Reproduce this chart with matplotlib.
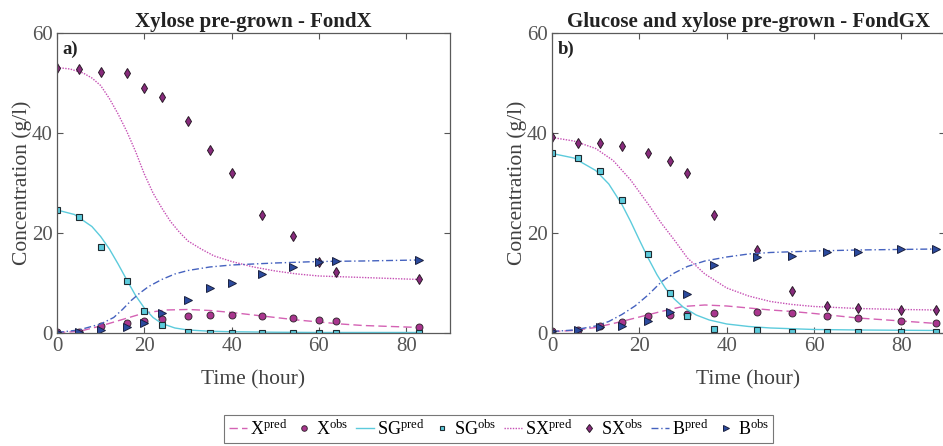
import numpy as np
import matplotlib
matplotlib.use("Agg")
import matplotlib.pyplot as plt

plt.rcParams["font.family"] = ["Liberation Serif", "DejaVu Serif"]
plt.rcParams["mathtext.fontset"] = "custom"
plt.rcParams["mathtext.rm"] = "Liberation Serif"
plt.rcParams["mathtext.it"] = "Liberation Serif:italic"

# ---- FondX : observations ----
t_obs_a = [0, 5, 10, 16, 20, 24, 30, 35, 40, 47, 54, 60, 64, 83]
x_obs_a = [0.1, 0.2, 1.3, 1.9, 2.4, 2.7, 3.3, 3.5, 3.6, 3.4, 2.9, 2.6, 2.4, 1.1]
sg_obs_a = [24.5, 23.2, 17.1, 10.3, 4.4, 1.5, 0.1, 0.0, 0.0, 0.0, 0.0, 0.0, 0.0, 0.0]
sx_obs_a = [53.1, 52.8, 52.3, 52.1, 49.0, 47.1, 42.4, 36.5, 32.0, 23.6, 19.4, 14.1, 12.1, 10.7]
b_obs_a = [0.1, 0.2, 0.6, 1.1, 1.9, 3.9, 6.6, 8.9, 9.9, 11.8, 13.1, 14.1, 14.3, 14.5]

# ---- FondX : model ----
t_x_a = [0, 5, 10, 15, 20, 25, 30, 35, 40, 45, 50, 55, 60, 65, 70, 83]
x_pred_a = [0.1, 0.3, 1.4, 2.7, 4.0, 4.6, 4.7, 4.5, 4.1, 3.6, 3.1, 2.6, 2.2, 1.8, 1.5, 1.1]
t_sg_a = [0, 4, 8, 10, 12, 14, 16, 18, 20, 22, 24, 27, 30, 35, 40, 50, 60, 83]
sg_pred_a = [24.6, 23.7, 21.3, 19.3, 16.8, 13.8, 10.6, 7.5, 5.0, 3.1, 1.9, 1.0, 0.6, 0.35, 0.25, 0.15, 0.1, 0.1]
t_sx_a = [0, 3, 6, 8, 10, 12, 14, 16, 18, 20, 22, 24, 26, 28, 30, 33, 36, 40, 45, 50, 55, 60, 70, 83]
sx_pred_a = [53.1, 52.8, 52.0, 51.0, 49.5, 46.9, 43.8, 40.3, 36.3, 31.8, 28.0, 25.0, 22.3, 20.2, 18.4, 16.8, 15.4, 14.3, 13.2, 12.4, 11.8, 11.4, 11.1, 10.7]
t_b_a = [0, 5, 10, 13, 15, 17, 19, 21, 24, 27, 30, 35, 40, 50, 60, 70, 83]
b_pred_a = [0.1, 0.6, 1.8, 3.1, 4.7, 6.5, 8.0, 9.3, 10.7, 11.8, 12.5, 13.2, 13.6, 14.0, 14.3, 14.4, 14.6]

# ---- FondGX : observations ----
t_obs_b = [0, 6, 11, 16, 22, 27, 31, 37, 47, 55, 63, 70, 80, 88]
x_obs_b = [0.3, 0.5, 1.3, 2.1, 3.3, 3.6, 3.7, 3.9, 4.1, 3.9, 3.3, 2.9, 2.3, 1.9]
sg_obs_b = [35.9, 34.9, 32.3, 26.5, 15.7, 7.9, 3.4, 0.7, 0.6, 0.2, 0.2, 0.2, 0.2, 0.2]
sx_obs_b = [39.1, 38.0, 38.0, 37.3, 36.0, 34.3, 32.0, 23.6, 16.5, 8.3, 5.4, 4.9, 4.6, 4.6]
b_obs_b = [0.3, 0.5, 1.1, 1.4, 2.3, 4.1, 7.7, 13.6, 15.1, 15.3, 16.1, 16.2, 16.7, 16.7]

# ---- FondGX : model ----
t_x_b = [0, 5, 10, 15, 20, 25, 30, 35, 40, 45, 50, 55, 60, 70, 80, 88]
x_pred_b = [0.3, 0.5, 1.1, 2.1, 3.2, 4.3, 5.3, 5.6, 5.4, 5.0, 4.6, 4.3, 3.9, 3.0, 2.4, 1.9]
t_sg_b = [0, 5, 10, 13, 16, 18, 20, 22, 24, 26, 28, 30, 33, 36, 40, 45, 50, 60, 70, 88]
sg_pred_b = [35.9, 35.0, 32.5, 29.8, 25.7, 22.3, 18.6, 15.0, 11.7, 8.9, 6.8, 5.2, 3.6, 2.6, 1.8, 1.3, 1.0, 0.7, 0.6, 0.5]
t_sx_b = [0, 5, 10, 14, 18, 22, 25, 28, 31, 35, 40, 45, 50, 55, 60, 70, 80, 88]
sx_pred_b = [39.1, 38.4, 36.9, 34.5, 30.6, 25.8, 22.0, 18.6, 15.0, 11.8, 9.0, 7.4, 6.3, 5.7, 5.3, 4.9, 4.7, 4.6]
t_b_b = [0, 5, 10, 13, 16, 19, 22, 25, 28, 31, 35, 40, 45, 50, 60, 70, 88]
b_pred_b = [0.3, 0.6, 1.4, 2.3, 3.7, 5.4, 7.6, 10.2, 12.0, 13.3, 14.4, 15.2, 15.8, 16.1, 16.4, 16.6, 16.8]

titles = ["Xylose pre-grown - FondX", "Glucose and xylose pre-grown - FondGX"]
letters = ["a)", "b)"]

c_x_line = "#d462b4"
c_x_mark = "#a9358e"
c_sg = "#5ccbdc"
c_sx_line = "#c64fb4"
c_sx_mark = "#882a7c"
c_b_line = "#4562bf"
c_b_mark = "#2b4a9e"

fig = plt.figure(figsize=(9.43, 4.46), dpi=100)
ax_a = fig.add_axes([0.0604, 0.2534, 0.4168, 0.6726])
ax_b = fig.add_axes([0.5854, 0.2534, 0.4168, 0.6726])

panels = [
    (ax_a, t_obs_a, x_obs_a, sg_obs_a, sx_obs_a, b_obs_a,
     (t_x_a, x_pred_a), (t_sg_a, sg_pred_a), (t_sx_a, sx_pred_a), (t_b_a, b_pred_a)),
    (ax_b, t_obs_b, x_obs_b, sg_obs_b, sx_obs_b, b_obs_b,
     (t_x_b, x_pred_b), (t_sg_b, sg_pred_b), (t_sx_b, sx_pred_b), (t_b_b, b_pred_b)),
]

handles = []
for i, (ax, t, xo, sgo, sxo, bo, xp, sgp, sxp, bp) in enumerate(panels):
    h1, = ax.plot(*xp, ls=(0, (6, 3)), color=c_x_line, lw=1.0)
    h2, = ax.plot(t, xo, ls="none", marker="o", ms=5, mfc=c_x_mark, mec="#3a2a35", mew=0.7)
    h3, = ax.plot(*sgp, ls="-", color=c_sg, lw=1.0)
    h4, = ax.plot(t, sgo, ls="none", marker="s", ms=3.8, mfc=c_sg, mec="#1e2a30", mew=0.8)
    h5, = ax.plot(*sxp, ls=(0, (1, 1)), color=c_sx_line, lw=1.0)
    h6, = ax.plot(t, sxo, ls="none", marker="d", ms=5.5, mfc=c_sx_mark, mec="#2a1a28", mew=0.7)
    h7, = ax.plot(*bp, ls=(0, (5, 2, 1, 2)), color=c_b_line, lw=1.0)
    h8, = ax.plot(t, bo, ls="none", marker=">", ms=5.5, mfc=c_b_mark, mec="#1a2040", mew=0.7)
    if i == 0:
        handles = [h1, h2, h3, h4, h5, h6, h7, h8]

    ax.set_xlim(0, 90)
    ax.set_ylim(0, 60)
    ax.set_xticks([0, 20, 40, 60, 80])
    ax.set_yticks([0, 20, 40, 60])
    ax.tick_params(direction="in", top=True, right=True, length=4,
                   labelsize=15, colors="#555555", width=0.8, pad=3)
    for s in ax.spines.values():
        s.set_color("#5a5a5a")
        s.set_linewidth(0.9)
    ax.set_xlabel("Time (hour)", fontsize=15.5, color="#404040", va="top")
    ax.xaxis.set_label_coords(0.5, -0.125)
    ax.set_ylabel("Concentration (g/l)", fontsize=15.5, color="#404040", va="center")
    ax.yaxis.set_label_coords(-0.088, 0.5)
    ax.set_title(titles[i], fontsize=15, fontweight="bold", color="#222222", pad=4)
    ax.text(0.015, 0.975, letters[i], transform=ax.transAxes, fontsize=13.5,
            fontweight="bold", color="#222222", va="top", ha="left")

labels = [r"X$^{\rm pred}$", r"X$^{\rm obs}$", r"SG$^{\rm pred}$", r"SG$^{\rm obs}$",
          r"SX$^{\rm pred}$", r"SX$^{\rm obs}$", r"B$^{\rm pred}$", r"B$^{\rm obs}$"]
leg = fig.legend(handles, labels, loc="center", bbox_to_anchor=(0.529, 0.038), ncol=8,
                 fontsize=13, frameon=True, fancybox=False, edgecolor="#555555",
                 handlelength=1.0, handletextpad=0.15, columnspacing=0.45,
                 borderpad=0.25, borderaxespad=0, markerscale=0.8)
leg.get_frame().set_linewidth(0.8)

fig.savefig("out.png", dpi=100)
